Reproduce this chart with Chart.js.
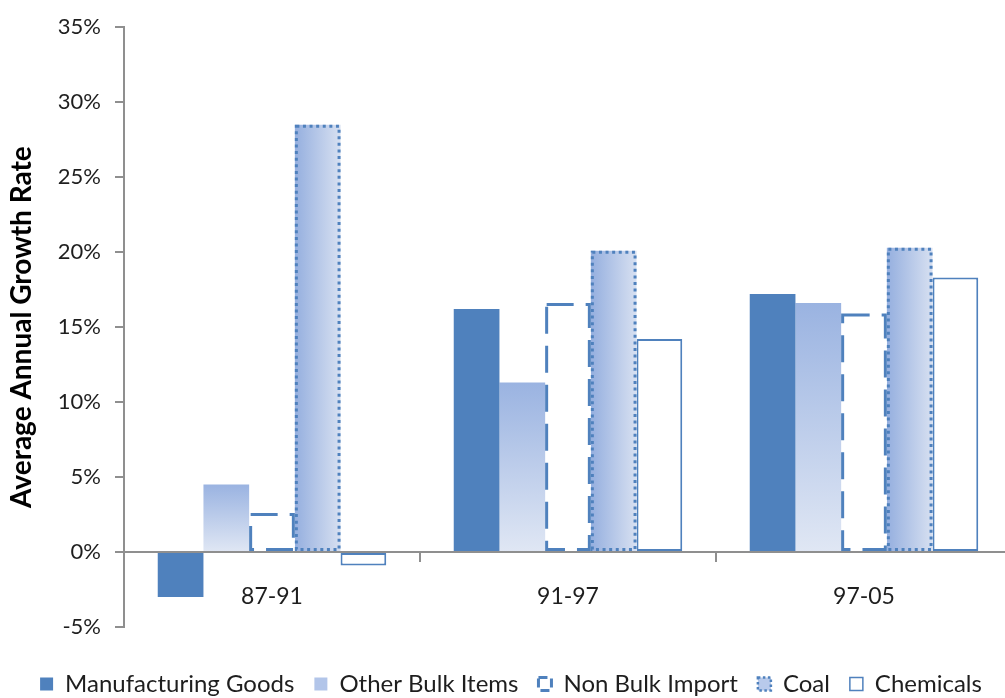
<!DOCTYPE html>
<html>
<head>
<meta charset="utf-8">
<script src="https://cdn.jsdelivr.net/npm/chart.js@4.4.1/dist/chart.umd.min.js"></script>
<style>
  html, body { margin: 0; padding: 0; background: #ffffff; overflow: hidden; }
  #wrap { position: absolute; left: 0; top: 0; width: 1014px; height: 706px; }
</style>
</head>
<body>
<div id="wrap"><canvas id="chart" width="1014" height="706"></canvas></div>
<script>
// Average annual growth rate (%) by period and cargo type
const categories = ['87-91', '91-97', '97-05'];
const manufacturingGoods = [-3.0, 16.2, 17.2];
const otherBulkItems = [4.5, 11.3, 16.6];
const nonBulkImport = [2.6, 16.6, 15.9];
const coal = [28.5, 20.1, 20.3];
const chemicals = [-0.9, 14.2, 18.3];
const percentTicks = [-5, 0, 5, 10, 15, 20, 25, 30, 35];

const BLUE = '#4F81BD';
const AXIS = '#8F8F8F';
const TEXT = '#1E1E1E';
const FONT = 'Lato, "Liberation Sans", sans-serif';

// Pixel extents of one bar, taken from the bar controller and the value scale
function barExtent(ctx) {
  const chart = ctx.chart;
  const yScale = chart.scales.y;
  const ctrl = chart.getDatasetMeta(ctx.datasetIndex).controller;
  const top = yScale.getPixelForValue(ctx.raw);
  const base = yScale.getPixelForValue(0);
  let left = null, right = null;
  try {
    const ruler = ctrl._getRuler();
    const p = ctrl._calculateBarIndexPixels(ctx.dataIndex, ruler);
    left = p.center - p.size / 2;
    right = p.center + p.size / 2;
  } catch (e) { /* ruler not ready yet */ }
  return { top, base, left, right };
}

function verticalFade(ctx) {
  if (ctx.type !== 'data' || !ctx.chart.chartArea) return '#B4C7EA';
  const e = barExtent(ctx);
  const g = ctx.chart.ctx.createLinearGradient(0, Math.min(e.top, e.base), 0, Math.max(e.top, e.base));
  g.addColorStop(0, '#9AB3E1');
  g.addColorStop(1, '#E0E7F4');
  return g;
}

function horizontalFade(ctx) {
  if (ctx.type !== 'data' || !ctx.chart.chartArea) return '#B4C7EA';
  const e = barExtent(ctx);
  if (e.left === null || !isFinite(e.left)) return '#B4C7EA';
  const g = ctx.chart.ctx.createLinearGradient(e.left, 0, e.right, 0);
  g.addColorStop(0, '#95AFDF');
  g.addColorStop(1, '#D7E0F1');
  return g;
}

// Dashed / dotted bar outlines stroked over the bars drawn by Chart.js
const barOutlines = {
  id: 'barOutlines',
  afterDatasetsDraw(chart) {
    const g = chart.ctx;
    chart.data.datasets.forEach((ds, i) => {
      if (!ds.outline) return;
      const meta = chart.getDatasetMeta(i);
      if (meta.hidden) return;
      const { width: lw, dash, color } = ds.outline;
      meta.data.forEach(el => {
        const { x, y, base, width } = el.getProps(['x', 'y', 'base', 'width'], true);
        const l = x - width / 2 + lw / 2;
        const r = x + width / 2 - lw / 2;
        const t = Math.min(y, base) + lw / 2;
        const b = Math.max(y, base) - lw / 2;
        g.save();
        g.strokeStyle = color;
        g.lineWidth = lw;
        g.lineCap = 'butt';
        g.setLineDash(dash);
        g.beginPath();
        g.moveTo(l, t);
        g.lineTo(r, t);
        g.lineTo(r, b);
        g.lineTo(l, b);
        g.closePath();
        g.stroke();
        g.restore();
      });
    });
  }
};

const legendStyles = [
  { fillStyle: BLUE, strokeStyle: BLUE, lineWidth: 0, lineDash: [] },
  { fillStyle: '#B2C5E9', strokeStyle: '#B2C5E9', lineWidth: 0, lineDash: [] },
  { fillStyle: '#ffffff', strokeStyle: BLUE, lineWidth: 3, lineDash: [9, 5] },
  { fillStyle: '#B8CAEB', strokeStyle: BLUE, lineWidth: 2.5, lineDash: [2.5, 2.5] },
  { fillStyle: '#ffffff', strokeStyle: BLUE, lineWidth: 1.5, lineDash: [] }
];

const chart = new Chart(document.getElementById('chart'), {
  type: 'bar',
  data: {
    labels: categories,
    datasets: [
      { label: 'Manufacturing Goods', data: manufacturingGoods, backgroundColor: BLUE, borderWidth: 0 },
      { label: 'Other Bulk Items', data: otherBulkItems, backgroundColor: verticalFade, borderWidth: 0 },
      { label: 'Non Bulk Import', data: nonBulkImport, backgroundColor: '#ffffff', borderWidth: 0,
        outline: { width: 3, dash: [27, 12], color: BLUE } },
      { label: 'Coal', data: coal, backgroundColor: horizontalFade, borderWidth: 0,
        outline: { width: 3, dash: [3, 3.6], color: BLUE } },
      { label: 'Chemicals', data: chemicals, backgroundColor: '#ffffff', borderColor: BLUE,
        borderWidth: 2, borderSkipped: false }
    ]
  },
  options: {
    responsive: false,
    animation: false,
    devicePixelRatio: 1,
    events: [],
    layout: { padding: { left: 10, top: 19, right: 2, bottom: 0 } },
    datasets: { bar: { barPercentage: 1, categoryPercentage: 0.772 } },
    scales: {
      x: {
        position: { y: 0 },
        grid: { offset: true, drawOnChartArea: false, drawTicks: true, tickLength: 9, color: AXIS, lineWidth: 2 },
        border: { display: true, color: AXIS, width: 2 },
        ticks: { color: TEXT, font: { family: FONT, size: 23 }, padding: 22 }
      },
      y: {
        min: percentTicks[0],
        max: percentTicks[percentTicks.length - 1],
        afterBuildTicks: s => { s.ticks = percentTicks.map(v => ({ value: v })); },
        afterFit: s => { s.width = 114; },
        grid: { drawOnChartArea: false, drawTicks: true, tickLength: 9, color: AXIS, lineWidth: 2 },
        border: { display: true, color: AXIS, width: 2 },
        ticks: { color: TEXT, font: { family: FONT, size: 22 }, padding: 14, callback: v => v + '%' },
        title: {
          display: true,
          text: 'Average Annual Growth Rate',
          color: '#000000',
          font: { family: FONT, size: 28, weight: 'bold' },
          padding: { top: -5, bottom: 0 }
        }
      }
    },
    plugins: {
      tooltip: { enabled: false },
      legend: {
        position: 'bottom',
        title: { display: true, text: '', padding: { top: 13, bottom: 0 }, font: { size: 10 } },
        labels: {
          color: TEXT,
          font: { family: FONT, size: 24 },
          boxWidth: 13,
          boxHeight: 13,
          padding: 20,
          generateLabels: c => c.data.datasets.map((ds, i) => Object.assign({
            text: ds.label,
            datasetIndex: i,
            hidden: !c.isDatasetVisible(i),
            fontColor: TEXT
          }, legendStyles[i]))
        }
      }
    }
  },
  plugins: [barOutlines]
});
// second pass so per-bar gradients see the final bar geometry
chart.update('none');
</script>
</body>
</html>
